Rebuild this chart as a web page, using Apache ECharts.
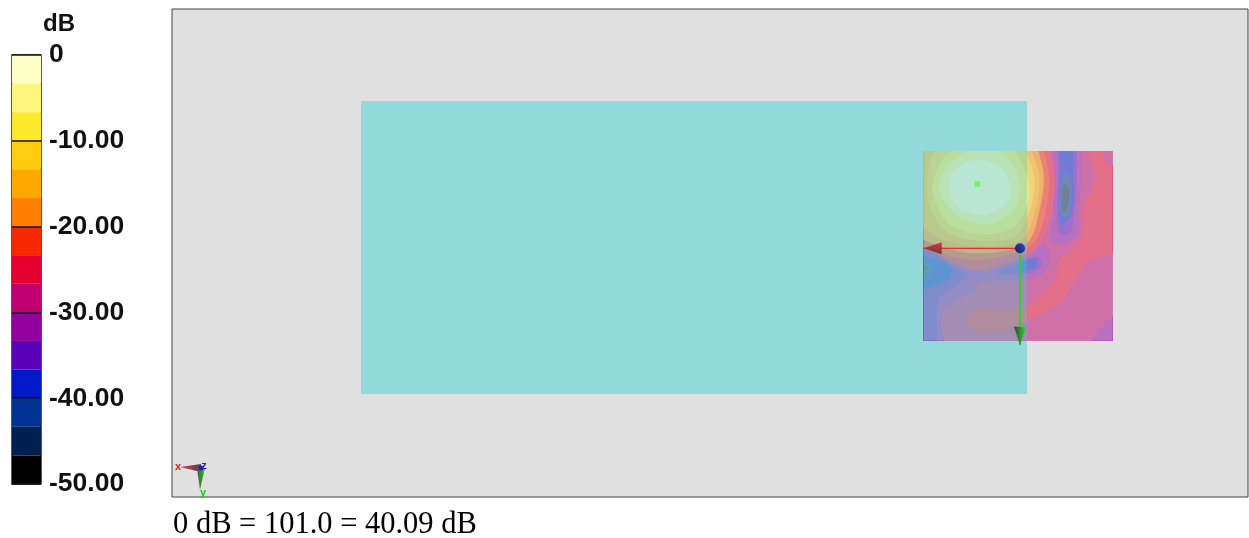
<!DOCTYPE html>
<html><head><meta charset="utf-8">
<style>html,body{margin:0;padding:0;background:#fff}#c{width:1249px;height:538px}</style>
<script src="https://cdn.jsdelivr.net/npm/echarts@6/dist/echarts.min.js"></script>
</head><body><div id="c"></div>
<script>
// legend
const legendTicks = [0, -10, -20, -30, -40, -50];
const bandEdges = [0,-3.33,-6.67,-10,-13.33,-16.67,-20,-23.33,-26.67,-30,-33.33,-36.67,-40,-43.33,-46.67,-50];
const bandColors = ['#ffffc8','#fff47c','#ffe92e','#ffcc10','#ffa800','#ff8000','#f52800','#e60030','#c00070','#9400a0','#5a00b8','#0018c8','#003090','#002050','#000000'];
// scene (scene unit = one third of a screen pixel; the measuring field spans 25..593 / 18..587)
const sceneX = [-2229, 999];
const sceneY = [-408, 1056];
const plateRect = [-1662, -132, 336, 747];
const fieldRect = [25, 18, 593, 587];
const splitX = 336;
// contour regions, in scene units: band index + outline
const baseField = [[-50,-50],[650,-50],[650,650],[-50,650]];
const cornerLow = [[620,495],[525,600],[620,620]];
const redSwath = [[515,5],[540,95],[510,180],[495,285],[435,345],[425,395],[385,440],[340,480],[240,495],[190,490],[160,515],[165,545],[200,565],[290,550],[340,525],[430,478],[485,400],[520,350],[640,300],[660,180],[640,75],[572,55],[565,5],[540,-20]];
const purpleBand = [[5,240],[200,300],[345,300],[400,310],[400,370],[340,405],[230,410],[185,415],[185,440],[130,465],[80,505],[85,620],[5,620]];
const columnOuter = [[415,0],[490,0],[500,90],[490,200],[490,270],[440,298],[408,285],[415,200],[405,100]];
const columnB = [[430,0],[478,0],[485,80],[478,200],[465,265],[430,262],[425,170],[430,60]];
const columnC = [[436,0],[470,0],[475,100],[470,205],[440,240],[430,180],[436,70]];
const columnD = [[446,90],[465,90],[470,160],[460,212],[440,212],[435,150]];
const columnE = [[447,120],[460,125],[462,170],[450,200],[440,190],[440,140]];
const ring7 = [[-80,140],[0,-60],[170,-120],[370,-60],[418,80],[410,200],[365,310],[300,345],[190,377],[90,345],[-60,325]];
const ring6 = [[-60,130],[10,-40],[170,-100],[355,-45],[400,80],[393,195],[350,300],[190,345],[55,320],[-40,295]];
const ring5 = [[-40,130],[20,-10],[170,-70],[340,-30],[385,80],[375,190],[335,295],[190,325],[60,300],[-20,250]];
const ring4 = [[-20,120],[30,10],[170,-50],[320,-20],[370,80],[365,180],[320,285],[190,305],[70,280],[0,215]];
const ring3 = [[35,124],[55,30],[170,-30],[300,-10],[355,80],[350,180],[300,272],[200,288],[95,262],[48,195]];
const ring2 = [[52,124],[85,40],[170,-10],[280,0],[335,90],[340,170],[290,250],[200,268],[110,243],[68,185]];
const ring1 = [[72,124],[100,60],[160,20],[255,20],[305,80],[315,134],[295,195],[215,239],[130,214],[85,165]];
const ring0 = [[102,124],[115,80],[160,50],[205,46],[260,70],[287,134],[270,180],[205,209],[140,195],[110,160]];
const leftLobeA = [[5,315],[70,330],[125,370],[160,390],[120,425],[70,465],[60,620],[5,620]];
const leftLobeB = [[5,335],[70,345],[118,380],[90,412],[40,428],[5,435]];
const leftLobeC = [[5,345],[55,365],[38,395],[5,410]];
const leftLobeD = [[5,352],[40,370],[25,385],[5,395]];
const midLobeA = [[250,380],[300,355],[370,335],[380,360],[340,385],[260,390]];
const midLobeB = [[300,365],[360,340],[365,365],[320,378]];
const contourLayers = [
  [8,baseField],[9,cornerLow],[7,redSwath],[9,purpleBand],
  [9,columnOuter],[10,columnB],[11,columnC],[12,columnD],[13,columnE],
  [7,ring7],[6,ring6],[5,ring5],[4,ring4],[3,ring3],[2,ring2],[1,ring1],[0,ring0],
  [10,leftLobeA],[11,leftLobeB],[12,leftLobeC],[13,leftLobeD],[10,midLobeA],[11,midLobeB]
];
// vectors
const dipole = [315,310];
const redTip = [25,310], redBase = [80,310];
const greenTip = [315,600], greenBase = [315,545];
const sensor = [187,117];
const triadOrigin = [-2142,969], triadX = [-2205,966], triadY = [-2145,1035];

const chart = echarts.init(document.getElementById('c'));
const coordPts = (api,pts)=>pts.map(p=>api.coord(p));
function fieldClip(api){
  const a=api.coord([fieldRect[0],fieldRect[1]]), b=api.coord([fieldRect[2],fieldRect[3]]);
  return {type:'rect',shape:{x:a[0],y:a[1],width:b[0]-a[0],height:b[1]-a[1]}};
}
function rectEl(api,x0,y0,x1,y1,fill,op){
  const a=api.coord([x0,y0]),b=api.coord([x1,y1]);
  return {type:'rect',shape:{x:a[0],y:a[1],width:b[0]-a[0],height:b[1]-a[1]},style:{fill,opacity:op==null?1:op}};
}
function wedge(api,tip,base,half,c0,c1,vertical){
  const t=api.coord(tip),b=api.coord(base);
  const pts=vertical?[t,[b[0]-half,b[1]],[b[0]+half,b[1]]]:[t,[b[0],b[1]-half],[b[0],b[1]+half]];
  return {type:'polygon',shape:{points:pts},style:{fill:new echarts.graphic.LinearGradient(0,0,vertical?1:0,vertical?0:1,[{offset:0,color:c0},{offset:1,color:c1}])}};
}
chart.setOption({
  animation:false,
  title:[
    {text:'dB',left:38,top:7,textStyle:{fontFamily:'Liberation Sans',fontWeight:'bold',fontSize:24,color:'#111'}},
    {text:'0 dB = 101.0 = 40.09 dB',left:168,top:504,textStyle:{fontFamily:'Liberation Serif',fontWeight:'normal',fontSize:30.5,color:'#000'}}
  ],
  grid:[
    {left:172,top:9,width:1076,height:488,show:true,backgroundColor:'#e0e0e0',borderColor:'#444',borderWidth:1},
    {left:12,top:55,width:29,height:429,show:true,backgroundColor:'transparent',borderColor:'#222',borderWidth:1.5}
  ],
  xAxis:[
    {gridIndex:0,type:'value',min:sceneX[0],max:sceneX[1],show:false},
    {gridIndex:1,type:'value',min:0,max:1,show:false}
  ],
  yAxis:[
    {gridIndex:0,type:'value',min:sceneY[0],max:sceneY[1],inverse:true,show:false},
    {gridIndex:1,type:'value',min:-50,max:0,interval:10,position:'right',z:6,
     axisLine:{show:false},axisTick:{show:false},
     splitLine:{show:true,lineStyle:{color:'#111',width:1.5}},
     axisLabel:{margin:8,formatter:v=>v===0?'0':v.toFixed(2),fontFamily:'Liberation Sans',fontWeight:'bold',fontSize:26.5,color:'#111'}}
  ],
  series:[
    {type:'custom',xAxisIndex:1,yAxisIndex:1,z:2,silent:true,data:bandColors.map((c,i)=>[i]),
     renderItem(p,api){const i=api.value(0);return rectEl(api,0,bandEdges[i],1,bandEdges[i+1],bandColors[i]);}},
    {type:'custom',z:2,silent:true,data:[[0]],
     renderItem(p,api){return rectEl(api,plateRect[0],plateRect[1],plateRect[2],plateRect[3],'#93d9d9');}},
    {type:'custom',z:3,silent:true,data:contourLayers.map((l,i)=>[i]),
     renderItem(p,api){const l=contourLayers[api.value(0)];
       return {type:'polygon',clipPath:fieldClip(api),shape:{points:coordPts(api,l[1]),smooth:0.3},style:{fill:bandColors[l[0]]}};}},
    {type:'custom',z:4,silent:true,data:[[1],[2]],
     renderItem(p,api){const k=api.value(0);
       if(k===1) return rectEl(api,fieldRect[0],fieldRect[1],splitX,fieldRect[3],'#93d9d9',0.65);
       return rectEl(api,splitX,fieldRect[1],fieldRect[2],fieldRect[3],'#e0e0e0',0.5);}},
    {type:'custom',z:5,silent:true,data:[[0]],
     renderItem(p,api){
       const line=(a,b,c,w)=>{const s=api.coord(a),e=api.coord(b);return {type:'line',shape:{x1:s[0],y1:s[1],x2:e[0],y2:e[1]},style:{stroke:c,lineWidth:w}};};
       const d=api.coord(dipole),s=api.coord(sensor),o=api.coord(triadOrigin),tx=api.coord(triadX),ty=api.coord(triadY);
       const txt=(pos,t,c)=>({type:'text',x:pos[0],y:pos[1],style:{text:t,fill:c,fontFamily:'Liberation Sans',fontWeight:'bold',fontSize:11,textAlign:'center',textVerticalAlign:'middle'}});
       return {type:'group',children:[
         {type:'rect',shape:{x:s[0]-3,y:s[1]-3,width:6,height:6},style:{fill:'#7cf07c'}},
         line(dipole,redTip,'#e03030',1.4),
         line(dipole,greenTip,'#3cc83c',2),
         wedge(api,redTip,redBase,6,'#f03030','#504040',false),
         wedge(api,greenTip,greenBase,6,'#404040','#20e020',true),
         {type:'circle',shape:{cx:d[0],cy:d[1],r:5},style:{fill:new echarts.graphic.LinearGradient(1,0,0,1,[{offset:0,color:'#2040f0'},{offset:1,color:'#202030'}])}},
         {type:'polygon',shape:{points:[tx,[o[0],o[1]-4],[o[0],o[1]+4]]},style:{fill:new echarts.graphic.LinearGradient(0,0,1,0,[{offset:0,color:'#e04040'},{offset:1,color:'#504050'}])}},
         {type:'polygon',shape:{points:[ty,[o[0]-4,o[1]],[o[0]+4,o[1]]]},style:{fill:new echarts.graphic.LinearGradient(0,0,1,0,[{offset:0,color:'#505050'},{offset:1,color:'#20d020'}])}},
         {type:'circle',shape:{cx:o[0],cy:o[1],r:2.5},style:{fill:'#2020c0'}},
         txt([tx[0]-2,tx[1]],'x','#e02020'),
         txt([o[0]+3,o[1]-2],'z','#2020e0'),
         txt([ty[0]+3,ty[1]+3],'y','#10d010')
       ]};
     }}
  ]
});
</script></body></html>
